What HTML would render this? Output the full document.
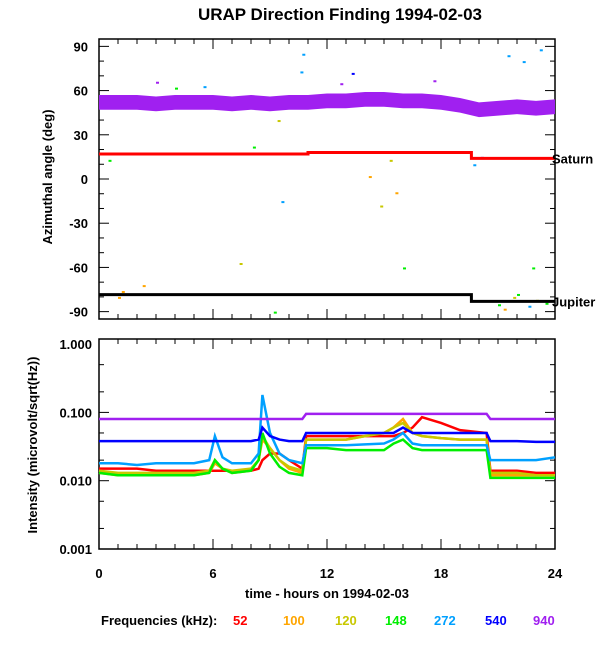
<!DOCTYPE html>
<html><head><meta charset="utf-8"><style>
body{margin:0;background:#fff;width:600px;height:650px;overflow:hidden;font-family:"Liberation Sans",sans-serif}
svg text{font-family:"Liberation Sans",sans-serif;font-weight:bold}
</style></head><body>
<svg id="c" width="600" height="650" xmlns="http://www.w3.org/2000/svg">
<text x="340" y="20" font-size="17" text-anchor="middle">URAP Direction Finding  1994-02-03</text>
<g id="top"></g>
<g id="bot"></g>
<text x="327" y="598" font-size="13" text-anchor="middle">time - hours on 1994-02-03</text>
<text x="52" y="177" font-size="13" text-anchor="middle" transform="rotate(-90 52 177)">Azimuthal angle (deg)</text>
<text x="37" y="445" font-size="13" text-anchor="middle" transform="rotate(-90 37 445)">Intensity (microvolt/sqrt(Hz))</text>
<g id="legend"><text x="101" y="625" font-size="13">Frequencies (kHz):</text></g>
</svg>
<script>
const freqs=["52","100","120","148","272","540","940"];
const colors=["#ff0000","#ffa500","#c8c800","#00ee00","#00a0ff","#0000ff","#a020f0"];
const hours=[0,1,2,3,4,5,6,7,8,9,10,11,12,13,14,15,16,17,18,19,20,21,22,23,24];
const band940=[52,52,52,51,52,52,52,51,52,51,52,52,53,53,54,54,53,53,52,50,47,48,49,48,49];
const saturnT=[0,11,11,19.6,19.6,24];
const saturnA=[17,17,18,18,14,14];
const jupiterT=[0,19.6,19.6,24];
const jupiterA=[-78.5,-78.5,-83,-83];
const scatterT=[10.7,10.6,13.3,4,7.4,9.2,14.2,14.8,15.3,15.6,16,8.1,21.5,22.3,23.2,22.8,20.1,19.7,2.3,1,9.6,21,21.8,22.6,23.5,21.3,22,23,1.2,0.5,3,5.5,9.4,17.6,12.7];
const scatterA=[85,73,72,62,-57,-90,2,-18,13,-9,-60,22,84,80,88,-60,15,10,-72,-80,-15,-85,-80,-86,-84,-88,-78,-82,-76,13,66,63,40,67,65];
const scatterC=[4,4,5,3,2,3,1,2,2,1,3,3,4,4,4,3,5,4,1,1,4,3,2,4,3,1,3,2,1,3,6,4,2,6,6];
const intT=[0,1,2,3,4,5,5.8,6.1,6.5,7,8,8.4,8.6,9,9.5,10,10.7,10.9,12,13,14,15,15.5,16,16.5,17,18,19,20.4,20.6,21,22,23,24];
const int940=[.08,.08,.08,.08,.08,.08,.08,.08,.08,.08,.08,.08,.08,.08,.08,.08,.08,.095,.095,.095,.095,.095,.095,.095,.095,.095,.095,.095,.095,.08,.08,.08,.08,.08];
const int540=[.038,.038,.038,.038,.038,.038,.038,.038,.038,.038,.038,.04,.06,.045,.04,.038,.038,.05,.05,.05,.05,.05,.05,.06,.05,.05,.05,.05,.05,.038,.038,.038,.037,.037];
const int272=[.018,.018,.017,.018,.018,.018,.02,.045,.022,.018,.018,.025,.18,.05,.025,.02,.018,.033,.033,.033,.034,.035,.04,.05,.035,.033,.033,.033,.033,.02,.02,.02,.02,.022];
const int148=[.013,.012,.012,.012,.012,.012,.013,.02,.015,.013,.014,.02,.05,.025,.016,.013,.012,.03,.03,.028,.028,.028,.035,.04,.03,.028,.028,.028,.028,.011,.011,.011,.011,.011];
const int120=[.014,.013,.013,.013,.013,.013,.014,.02,.015,.014,.015,.02,.045,.03,.02,.016,.014,.04,.04,.04,.045,.05,.06,.07,.05,.045,.042,.04,.04,.013,.013,.013,.012,.012];
const int100=[.013,.012,.012,.012,.012,.012,.013,.018,.015,.013,.014,.02,.04,.03,.02,.015,.013,.04,.04,.04,.045,.05,.06,.08,.05,.045,.042,.04,.04,.012,.012,.012,.012,.012];
const int52=[.015,.015,.015,.014,.014,.014,.014,.014,.014,.014,.014,.015,.02,.025,.025,.02,.015,.045,.045,.045,.045,.045,.045,.05,.06,.085,.07,.055,.05,.014,.014,.014,.013,.013];
const intSeries=[int52,int100,int120,int148,int272,int540,int940];
const legendX=[233,283,335,385,434,485,533];

const NS="http://www.w3.org/2000/svg";
const X0=99,X1=555;
const x=h=>X0+(X1-X0)*h/24;
const ya=a=>39+(95-a)*280/190;
const yi=v=>549-(Math.log10(v)+3)*68.3;
function mk(t,p,at){const e=document.createElementNS(NS,t);for(const k in at)e.setAttribute(k,at[k]);p.appendChild(e);return e;}
const gTop=document.getElementById('top'),gBot=document.getElementById('bot');
function frame(g,y0,y1){
 const r=mk('rect',g,{x:X0,y:y0,width:X1-X0,height:y1-y0,fill:'none',stroke:'#000','stroke-width':1.5});
 
 
 for(let h=0;h<=24;h++){const L=h%6==0?10:5;
  mk('line',g,{x1:x(h),x2:x(h),y1:y1,y2:y1-L,stroke:'#000'});
  mk('line',g,{x1:x(h),x2:x(h),y1:y0,y2:y0+L,stroke:'#000'});}
}
frame(gTop,39,319);frame(gBot,339,549);
for(let a=-90;a<=90;a+=10){const L=a%30==0?10:5;
 mk('line',gTop,{x1:X0,x2:X0+L,y1:ya(a),y2:ya(a),stroke:'#000'});
 mk('line',gTop,{x1:X1,x2:X1-L,y1:ya(a),y2:ya(a),stroke:'#000'});
 if(a%30==0){const t=mk('text',gTop,{x:88,y:ya(a)+5,'font-size':13,'text-anchor':'end'});t.textContent=a;
  
  }}
let pts=[];hours.forEach((h,i)=>pts.push(x(h)+','+ya(band940[i]+5)));
for(let i=hours.length-1;i>=0;i--)pts.push(x(hours[i])+','+ya(band940[i]-5));
const band=mk('polygon',gTop,{points:pts.join(' '),fill:'#a020f0'});


scatterT.forEach((t,i)=>{const p=mk('rect',gTop,{x:x(t),y:ya(scatterA[i]),width:3,height:2,fill:colors[scatterC[i]]});
 
 });
function step(T,A,c,name){const p=mk('polyline',gTop,{points:T.map((t,i)=>x(t)+','+ya(A[i])).join(' '),fill:'none',stroke:c,'stroke-width':3});
 
 }
step(saturnT,saturnA,'#ff0000','saturn-line');step(jupiterT,jupiterA,'#000','jupiter-line');
let s=mk('text',gTop,{x:552,y:ya(14)+5,'font-size':13});s.textContent='Saturn';


s=mk('text',gTop,{x:552,y:ya(-83)+5,'font-size':13});s.textContent='Jupiter';


for(let d=-3;d<0;d++)for(let m=1;m<10;m++){const v=m*Math.pow(10,d);const L=m==1?10:5;
 if(m==1||m==2||m==5){mk('line',gBot,{x1:X0,x2:X0+L,y1:yi(v),y2:yi(v),stroke:'#000'});mk('line',gBot,{x1:X1,x2:X1-L,y1:yi(v),y2:yi(v),stroke:'#000'});}}
["0.001","0.010","0.100","1.000"].forEach(l=>{const t=mk('text',gBot,{x:92,y:yi(+l)+5,'font-size':13,'text-anchor':'end'});t.textContent=l;
 
 });
intSeries.forEach((ser,k)=>{const p=mk('polyline',gBot,{points:intT.map((h,i)=>x(h)+','+yi(ser[i])).join(' '),fill:'none',stroke:colors[k],'stroke-width':2.5});
 
 });
[0,6,12,18,24].forEach(h=>{const t=mk('text',gBot,{x:x(h),y:578,'font-size':13,'text-anchor':'middle'});t.textContent=h;
 
 });
const lg=document.getElementById('legend');
freqs.forEach((f,i)=>{const t=mk('text',lg,{x:legendX[i],y:625,'font-size':13,fill:colors[i]});t.textContent=f;
 
 });
</script>
</body></html>
